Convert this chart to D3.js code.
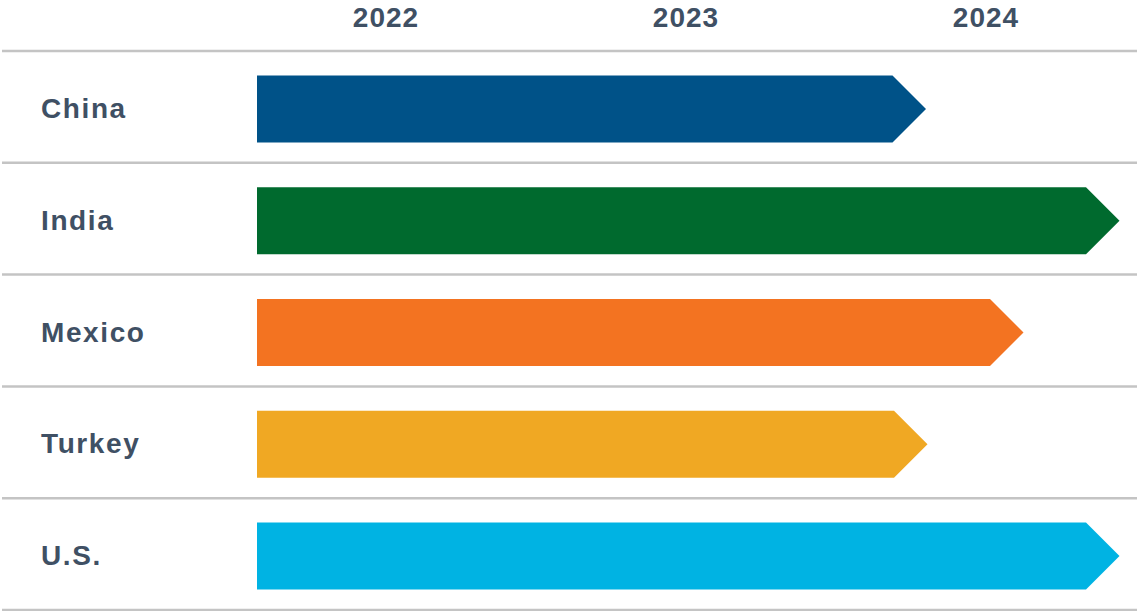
<!DOCTYPE html>
<html>
<head>
<meta charset="utf-8">
<script src="https://cdn.jsdelivr.net/npm/d3@7"></script>
<style>
  html, body { margin: 0; padding: 0; background: #fff; }
  #chart { width: 1137px; height: 611px; }
  text { font-family: Arial, "Liberation Sans", sans-serif; font-weight: bold; fill: #3f5064; letter-spacing: 1px; }
  .country { letter-spacing: 1.6px; }
</style>
</head>
<body>
<div id="chart"></div>
<script>
//Datos
const countries = ['China', 'India', 'Mexico', 'Turkey', 'U.S.'];
const startYear = [2022.07, 2022.07, 2022.07, 2022.07, 2022.07];
const endYear = [2024.30, 2024.945, 2024.625, 2024.305, 2024.945];
const years = [2022, 2023, 2024];

//Colores fijos
const COLORS = ['#005288', '#006a2e', '#f37321', '#f0a823', '#00b3e3'];

let width = 1137, height = 611;

let svg = d3.select('#chart')
    .append('svg')
      .attr('width', width)
      .attr('height', height);

//Eje X (años, cada etiqueta en el centro de su año)
let x = d3.scaleLinear()
    .domain([2022, 2025])
    .range([236, 1136]);

//Eje Y
let y = d3.scaleBand()
    .domain(countries)
    .range([51, 610]);

let barH = 67;

//Líneas separadoras
let lines = [y.range()[0]].concat(countries.map(function(d) { return y(d) + y.bandwidth(); }));

svg.append('g')
    .selectAll('line')
    .data(lines)
    .enter()
    .append('line')
      .attr('x1', 2)
      .attr('x2', width)
      .attr('y1', function(d) { return d; })
      .attr('y2', function(d) { return d; })
      .attr('stroke', '#c4c4c4')
      .attr('stroke-width', 2.5);

//Años
svg.append('g')
    .selectAll('text')
    .data(years)
    .enter()
    .append('text')
      .attr('x', function(d) { return x(d + 0.5); })
      .attr('y', 27)
      .attr('text-anchor', 'middle')
      .style('font-size', '28px')
      .text(function(d) { return d; });

//Etiquetas de países
svg.append('g')
    .selectAll('text')
    .data(countries)
    .enter()
    .append('text')
      .attr('class', 'country')
      .attr('x', 41)
      .attr('y', function(d) { return y(d) + y.bandwidth() / 2 + 11; })
      .style('font-size', '28px')
      .text(function(d) { return d; });

//Flechas
let arrow = function(d, i) {
    let cy = y(d) + y.bandwidth() / 2 + 2,
        top = cy - barH / 2,
        bottom = cy + barH / 2,
        x0 = x(startYear[i]),
        tip = x(endYear[i]),
        shoulder = tip - barH / 2;
    return 'M' + x0 + ',' + top +
        'L' + shoulder + ',' + top +
        'L' + tip + ',' + cy +
        'L' + shoulder + ',' + bottom +
        'L' + x0 + ',' + bottom + 'Z';
};

svg.append('g')
    .selectAll('path')
    .data(countries)
    .enter()
    .append('path')
      .attr('d', arrow)
      .attr('fill', function(d, i) { return COLORS[i]; });
</script>
</body>
</html>
